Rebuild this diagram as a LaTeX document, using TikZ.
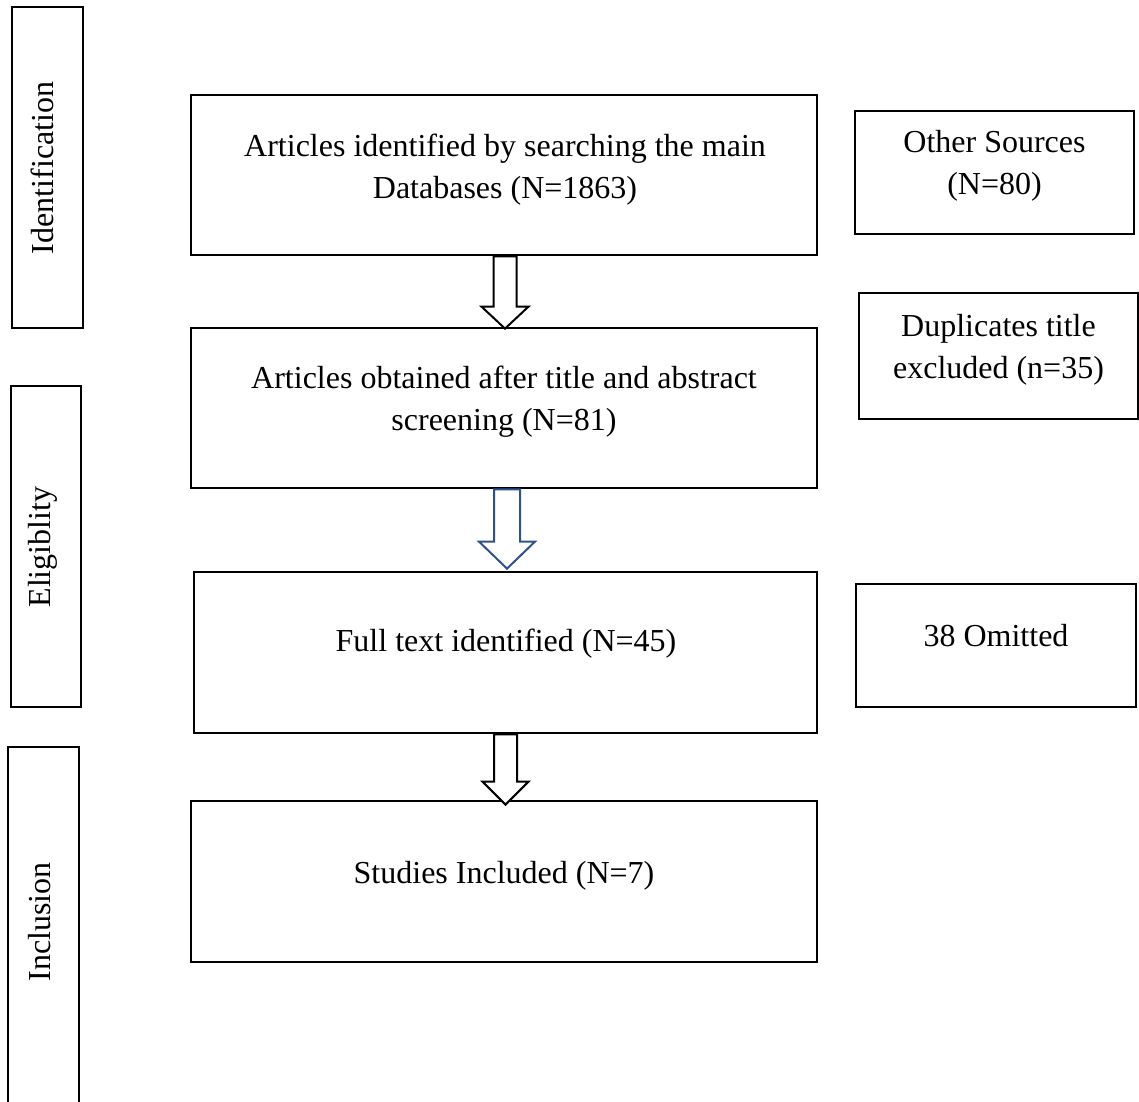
\documentclass[tikz,border=0pt]{standalone}
\usepackage{fontspec}
\setmainfont{Liberation Serif}
\usetikzlibrary{calc}
\definecolor{arrowblue}{RGB}{47,82,143}
\tikzset{
  box/.style={draw=black, line width=2.8pt, inner sep=0pt},
  txt/.style={align=center, font=\fontsize{32}{42}\selectfont, inner sep=0pt},
  sidetxt/.style={txt, rotate=90},
  blkblack/.style={draw=black, line width=2pt, fill=white, line join=miter},
  blkblue/.style={draw=arrowblue, line width=2pt, fill=white, line join=miter},
}
\newcommand{\blkarrow}[6]{%
  \draw[#1] let \p1=(#2), \p2=(#3) in
    (\x1-#4pt,\y1) -- (\x1-#4pt,\y2+#6pt) -- (\x1-#5pt,\y2+#6pt) -- (\x1,\y2)
    -- (\x1+#5pt,\y2+#6pt) -- (\x1+#4pt,\y2+#6pt) -- (\x1+#4pt,\y1) -- cycle;}
\begin{document}
\begin{tikzpicture}[x=1pt,y=-1pt]
\clip (0,0) rectangle (1139,1101);
\fill[white] (0,0) rectangle (1139,1101);

% stage bars
\node[box, minimum width=71pt, minimum height=321pt] (idbar) at (47.5,167.5) {};
\node[sidetxt] (idtxt) at (42,168) {Identification};
\node[box, minimum width=70pt, minimum height=321pt] (elbar) at (46,546.5) {};
\node[sidetxt] (eltxt) at (43,547) {Eligiblity};
\node[box, minimum width=71pt, minimum height=380pt] (incbar) at (43.5,937) {};
\node[sidetxt] (inctxt) at (40,922) {Inclusion};

% main boxes
\node[box, minimum width=626pt, minimum height=160pt] (b1) at (504,175) {};
\node[txt] (t1) at (505,169.5) {Articles identified by searching the main\\Databases (N=1863)};
\node[box, minimum width=626pt, minimum height=160pt] (b2) at (504,408) {};
\node[txt] (t2) at (504,402) {Articles obtained after title and abstract\\screening (N=81)};
\node[box, minimum width=623pt, minimum height=161pt] (b3) at (505.5,652.5) {};
\node[txt] (t3) at (506,643.5) {Full text identified (N=45)};
\node[box, minimum width=626pt, minimum height=161pt] (b4) at (504,881.5) {};
\node[txt] (t4) at (504,875.5) {Studies Included (N=7)};

% side boxes
\node[box, minimum width=279pt, minimum height=123pt] (os) at (994.5,172.5) {};
\node[txt] (ostxt) at (994.5,166) {Other Sources\\(N=80)};
\node[box, minimum width=279pt, minimum height=126pt] (dup) at (998.5,356) {};
\node[txt] (duptxt) at (998.5,350) {Duplicates title\\excluded (n=35)};
\node[box, minimum width=280pt, minimum height=123pt] (om) at (996,645.5) {};
\node[txt] (omtxt) at (996,636) {38 Omitted};

% block arrows
\blkarrow{blkblack}{$(b1.south)+(1,0)$}{$(b2.north)+(0,2)$}{11.5}{23.5}{22}
\blkarrow{blkblue}{$(b2.south)+(3,0)$}{$(b3.north)+(0,-2)$}{13}{28}{27}
\blkarrow{blkblack}{$(b3.south)+(0,0)$}{$(b4.north)+(0,5)$}{11.5}{23}{23}
\end{tikzpicture}
\end{document}
